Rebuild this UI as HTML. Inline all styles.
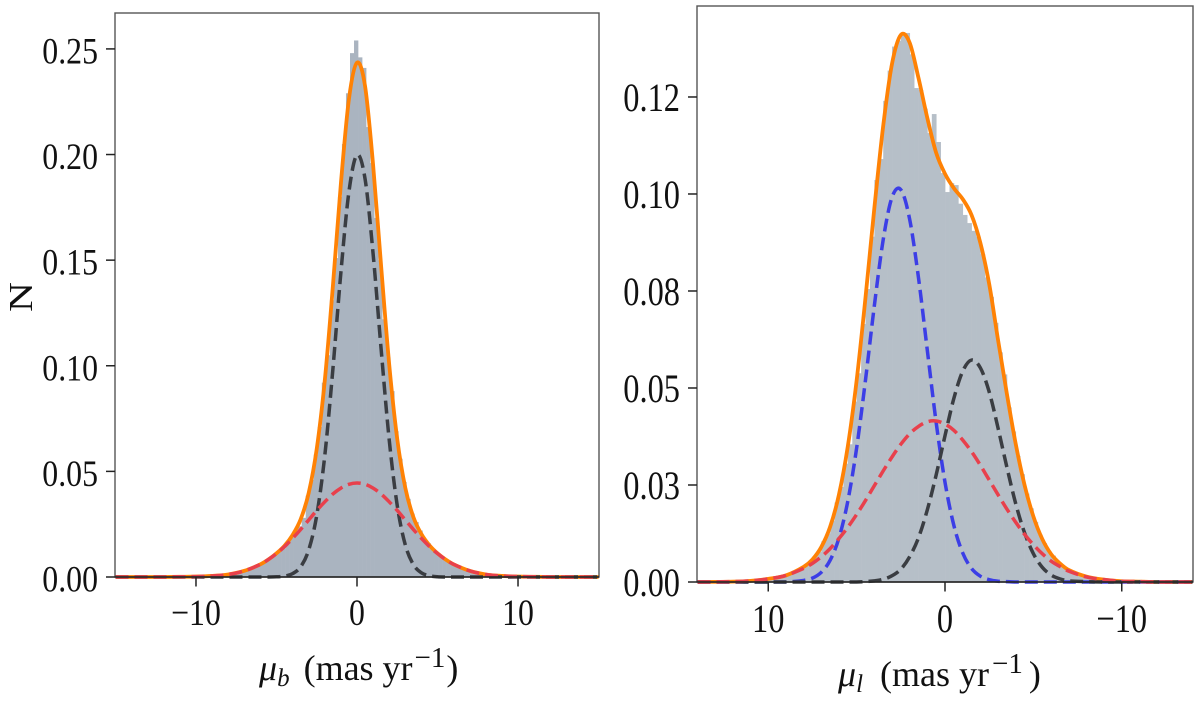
<!DOCTYPE html>
<html lang="en">
<head>
<meta charset="utf-8">
<title>Proper motion distributions</title>
<style>
html,body{margin:0;padding:0;background:#fff;}
svg{display:block;}
text{font-family:"Liberation Serif",serif;fill:#111;}
</style>
</head>
<body>
<svg id="chart" xmlns="http://www.w3.org/2000/svg" width="1200" height="701" viewBox="0 0 1200 701">
  <rect width="1200" height="701" fill="#fff"/>
  <g id="panel-left"></g>
  <g id="panel-right"></g>
  <text transform="translate(32,297) rotate(-90)" text-anchor="middle" font-size="34" textLength="30" lengthAdjust="spacingAndGlyphs">N</text>
  <text x="259" y="680" font-size="36"><tspan font-style="italic">μ</tspan><tspan font-style="italic" font-size="25" dy="6">b</tspan><tspan dy="-6" dx="14">(mas yr</tspan><tspan font-size="29" dy="-13" dx="2">−1</tspan><tspan dy="13" dx="1">)</tspan></text>
  <text x="838" y="686" font-size="36"><tspan font-style="italic">μ</tspan><tspan font-style="italic" font-size="25" dy="6">l</tspan><tspan dy="-6" dx="17">(mas yr</tspan><tspan font-size="29" dy="-13" dx="3">−1</tspan><tspan dy="13" dx="6">)</tspan></text>
</svg>
<script>
// ---------- Left panel data (mu_b) ----------
const leftCurveX = [-15,-12,-11,-10,-9,-8,-7,-6,-5.5,-5,-4.5,-4,-3.5,-3,-2.5,-2,-1.5,-1,-0.5,0,0.5,1,1.5,2,2.5,3,3.5,4,4.5,5,5.5,6,7,8,9,10,11,12,15];
const leftBlack = [0,0,0,0,0,0,0,0,0,0.0001,0.0004,0.0016,0.0048,0.0128,0.0292,0.0575,0.0982,0.1442,0.1824,0.1998,0.1885,0.153,0.1077,0.065,0.0338,0.0152,0.0059,0.002,0.0006,0.0001,0,0,0,0,0,0,0,0,0];
const leftRed = [0,0,0.0001,0.0002,0.0005,0.0012,0.0029,0.006,0.0083,0.0111,0.0144,0.0183,0.0225,0.027,0.0315,0.0356,0.0393,0.0421,0.0439,0.0445,0.0439,0.0421,0.0393,0.0356,0.0315,0.027,0.0225,0.0183,0.0144,0.0111,0.0083,0.006,0.0029,0.0012,0.0005,0.0002,0.0001,0,0];
const leftTotal = [0,0,0.0001,0.0002,0.0005,0.0012,0.0029,0.006,0.0083,0.0112,0.0148,0.0199,0.0273,0.0398,0.0607,0.0931,0.1375,0.1863,0.2263,0.2435,0.2324,0.1951,0.147,0.1006,0.0653,0.0422,0.0284,0.0203,0.015,0.0112,0.0083,0.006,0.0029,0.0012,0.0005,0.0002,0.0001,0,0];
const leftBinStart = -10.185;
const leftBinWidth = 0.25;
const leftHist = [0.0002,0.0002,0.0003,0.0004,0.0005,0.0006,0.0007,0.0009,0.0011,0.0013,0.0016,0.0021,0.0027,0.0031,0.0038,0.0047,0.0058,0.0068,0.0078,0.0092,0.0108,0.012,0.0135,0.0155,0.0192,0.0215,0.024,0.028,0.0385,0.046,0.058,0.071,0.092,0.105,0.131,0.151,0.18,0.205,0.229,0.248,0.254,0.246,0.241,0.213,0.196,0.17,0.15,0.122,0.104,0.088,0.069,0.056,0.045,0.037,0.03,0.026,0.022,0.018,0.016,0.0135,0.0115,0.0098,0.0085,0.0072,0.0063,0.0052,0.0043,0.0036,0.003,0.0024,0.002,0.0016,0.0013,0.001,0.0008,0.0006,0.0005,0.0004,0.0003,0.0002,0.0002];
const leftYTicks = [0,0.05,0.10,0.15,0.20,0.25];
const leftYLabels = ['0.00','0.05','0.10','0.15','0.20','0.25'];
const leftXTicks = [-10,0,10];
const leftXLabels = ['−10','0','10'];

// ---------- Right panel data (mu_l) ----------
const rightCurveX = [14,12,11,10,9,8,7.5,7,6.5,6,5.5,5,4.5,4,3.5,3,2.5,2,1.5,1,0.5,0,-0.5,-1,-1.5,-2,-2.5,-3,-3.5,-4,-4.5,-5,-5.5,-6,-6.5,-7,-8,-9,-10,-11,-12,-14];
const rightBlue = [0,0,0,0,0,0.0004,0.001,0.0025,0.0056,0.0113,0.0208,0.0345,0.052,0.0711,0.0881,0.0991,0.1011,0.0935,0.0784,0.0597,0.0411,0.0257,0.0146,0.0075,0.0035,0.0015,0.0006,0.0002,0.0001,0,0,0,0,0,0,0,0,0,0,0,0,0];
const rightBlack = [0,0,0,0,0,0,0,0,0,0,0,0,0.0001,0.0003,0.0007,0.0016,0.0033,0.0065,0.0114,0.0186,0.0276,0.0377,0.0473,0.0543,0.0572,0.0552,0.049,0.0397,0.0296,0.0202,0.0127,0.0073,0.0038,0.0018,0.0008,0.0003,0.0001,0,0,0,0,0];
const rightRed = [0,0.0001,0.0003,0.0008,0.0017,0.0035,0.0048,0.0065,0.0086,0.0112,0.0141,0.0174,0.021,0.0248,0.0286,0.0322,0.0355,0.0382,0.0401,0.0413,0.0415,0.0407,0.0391,0.0366,0.0336,0.0301,0.0263,0.0225,0.0188,0.0154,0.0123,0.0096,0.0073,0.0054,0.004,0.0028,0.0013,0.0006,0.0002,0.0001,0,0];
const rightTotal = [0,0.0001,0.0003,0.0008,0.0017,0.0039,0.0058,0.009,0.0142,0.0225,0.0349,0.0519,0.0732,0.0962,0.1174,0.1335,0.141,0.139,0.1299,0.1196,0.1106,0.1052,0.1015,0.0987,0.0946,0.0874,0.0768,0.0624,0.0485,0.0356,0.025,0.0169,0.0111,0.0072,0.0048,0.0031,0.0014,0.0006,0.0002,0.0001,0,0];
const rightBinStart = 12.995;
const rightBinWidth = -0.25;
const rightHist = [0.0001,0.0001,0.0001,0.0001,0.0001,0.0002,0.0002,0.0003,0.0004,0.0005,0.0006,0.0007,0.0009,0.0011,0.0013,0.0016,0.0019,0.0023,0.0028,0.0034,0.0042,0.005,0.0066,0.0078,0.0105,0.0125,0.0158,0.0205,0.0245,0.0305,0.0355,0.0465,0.0538,0.0665,0.0755,0.089,0.1036,0.109,0.124,0.1318,0.138,0.1395,0.1415,0.1415,0.136,0.1273,0.1268,0.122,0.1157,0.1206,0.1134,0.1054,0.1005,0.1028,0.1023,0.0975,0.0946,0.0925,0.0905,0.089,0.0845,0.0785,0.0735,0.0668,0.0592,0.0535,0.045,0.0388,0.0325,0.0278,0.0228,0.019,0.0155,0.0122,0.01,0.008,0.0068,0.0052,0.0043,0.0034,0.0028,0.0023,0.0018,0.0016,0.0013,0.001,0.0009,0.0007,0.0006,0.0005,0.0004,0.0003,0.0002,0.0002,0.0001];
const rightYTicks = [0,0.025,0.05,0.075,0.10,0.125];
const rightYLabels = ['0.00','0.03','0.05','0.08','0.10','0.12'];
const rightXTicks = [10,0,-10];
const rightXLabels = ['10','0','−10'];

const SVGNS = 'http://www.w3.org/2000/svg';

function make(parent, tag, attrs) {
  const el = document.createElementNS(SVGNS, tag);
  for (const k in attrs) el.setAttribute(k, attrs[k]);
  parent.appendChild(el);
  return el;
}

function linearScale(d0, d1, r0, r1) {
  return v => r0 + (v - d0) * (r1 - r0) / (d1 - d0);
}

function curvePath(xs, ys, sx, sy) {
  const pts = xs.map((x, i) => [sx(x), sy(ys[i])]);
  const base = sy(0);
  let d = 'M' + pts[0][0].toFixed(2) + ' ' + pts[0][1].toFixed(2);
  for (let i = 0; i < pts.length - 1; i++) {
    const p0 = pts[Math.max(i - 1, 0)], p1 = pts[i], p2 = pts[i + 1], p3 = pts[Math.min(i + 2, pts.length - 1)];
    const h = p2[0] - p1[0];
    const m1 = (p2[1] - p0[1]) / (p2[0] - p0[0]);
    const m2 = (p3[1] - p1[1]) / (p3[0] - p1[0]);
    const c1y = Math.min(p1[1] + m1 * h / 3, base);
    const c2y = Math.min(p2[1] - m2 * h / 3, base);
    d += ' C' + (p1[0] + h / 3).toFixed(2) + ' ' + c1y.toFixed(2) + ' ' + (p2[0] - h / 3).toFixed(2) + ' ' + c2y.toFixed(2) + ' ' + p2[0].toFixed(2) + ' ' + p2[1].toFixed(2);
  }
  return d;
}

function squeeze(el, factor) {
  const len = el.getComputedTextLength();
  el.setAttribute('textLength', (len * factor).toFixed(2));
  el.setAttribute('lengthAdjust', 'spacingAndGlyphs');
}

function drawPanel(cfg) {
  const g = document.getElementById(cfg.id);
  const sx = linearScale(cfg.xDomain[0], cfg.xDomain[1], cfg.left, cfg.right);
  const sy = linearScale(0, cfg.yMax, cfg.bottom, cfg.top);

  cfg.hist.forEach((v, i) => {
    const a = sx(cfg.binStart + i * cfg.binWidth);
    const b = sx(cfg.binStart + (i + 1) * cfg.binWidth);
    const bar = make(g, 'rect', {
      x: Math.min(a, b).toFixed(2),
      y: sy(v).toFixed(2),
      width: (Math.abs(b - a) + 0.3).toFixed(2),
      height: (cfg.bottom - sy(v)).toFixed(2),
      fill: cfg.histColor
    });
    
    
  });

  const total = make(g, 'path', {
    d: curvePath(cfg.curveX, cfg.total, sx, sy),
    fill: 'none', stroke: '#ff8205', 'stroke-width': 3.8, 'stroke-linejoin': 'round'
  });
  
  

  cfg.dashed.forEach(s => {
    const line = make(g, 'path', {
      d: curvePath(cfg.curveX, s.values, sx, sy),
      fill: 'none', stroke: s.color, 'stroke-width': 3.5, 'stroke-dasharray': '13 6'
    });
    
    
  });

  const frame = make(g, 'rect', {
    x: cfg.left, y: cfg.top, width: cfg.right - cfg.left, height: cfg.bottom - cfg.top,
    fill: 'none', stroke: '#555', 'stroke-width': 1.4
  });
  
  

  const baseLine = make(g, 'line', {
    x1: cfg.left, x2: cfg.right, y1: cfg.bottom, y2: cfg.bottom, stroke: '#222', 'stroke-width': 1.6
  });
  
  

  cfg.yTicks.forEach((v, i) => {
    const y = sy(v);
    const tick = make(g, 'line', {
      x1: cfg.left - 9, x2: cfg.left, y1: y, y2: y, stroke: '#222', 'stroke-width': 1.5
    });
    
    
    const label = make(g, 'text', {
      x: cfg.left - cfg.yLabelGap, y: y + cfg.yLabelDy, 'text-anchor': 'end', 'font-size': cfg.fontSize
    });
    label.textContent = cfg.yLabels[i];
    
    
    squeeze(label, cfg.squeeze);
  });

  cfg.xTicks.forEach((v, i) => {
    const x = sx(v);
    const tick = make(g, 'line', {
      x1: x, x2: x, y1: cfg.bottom, y2: cfg.bottom + 9.5, stroke: '#222', 'stroke-width': 1.5
    });
    
    
    const label = make(g, 'text', {
      x: x, y: cfg.xLabelY, 'text-anchor': 'middle', 'font-size': cfg.fontSize
    });
    label.textContent = cfg.xLabels[i];
    
    
    squeeze(label, cfg.squeeze);
  });
}

drawPanel({
  id: 'panel-left', left: 115, right: 599, top: 13, bottom: 577,
  xDomain: [-15.03, 15.03], yMax: 0.267,
  curveX: leftCurveX, total: leftTotal,
  dashed: [
    { name: 'narrow-component-line', values: leftBlack, color: '#3a3d42' },
    { name: 'wide-component-line', values: leftRed, color: '#e8404c' }
  ],
  hist: leftHist, binStart: leftBinStart, binWidth: leftBinWidth, histColor: '#aab4c0',
  yTicks: leftYTicks, yLabels: leftYLabels, xTicks: leftXTicks, xLabels: leftXLabels,
  fontSize: 37, squeeze: 0.86, yLabelGap: 17, yLabelDy: 14.5, xLabelY: 625
});

drawPanel({
  id: 'panel-right', left: 697, right: 1193, top: 6, bottom: 582,
  xDomain: [14.03, -14.03], yMax: 0.14845,
  curveX: rightCurveX, total: rightTotal,
  dashed: [
    { name: 'blue-component-line', values: rightBlue, color: '#3c3ee6' },
    { name: 'black-component-line', values: rightBlack, color: '#3a3d42' },
    { name: 'red-component-line', values: rightRed, color: '#e8404c' }
  ],
  hist: rightHist, binStart: rightBinStart, binWidth: rightBinWidth, histColor: '#b6bfc8',
  yTicks: rightYTicks, yLabels: rightYLabels, xTicks: rightXTicks, xLabels: rightXLabels,
  fontSize: 40, squeeze: 0.81, yLabelGap: 17, yLabelDy: 14, xLabelY: 632
});
</script>
</body>
</html>
